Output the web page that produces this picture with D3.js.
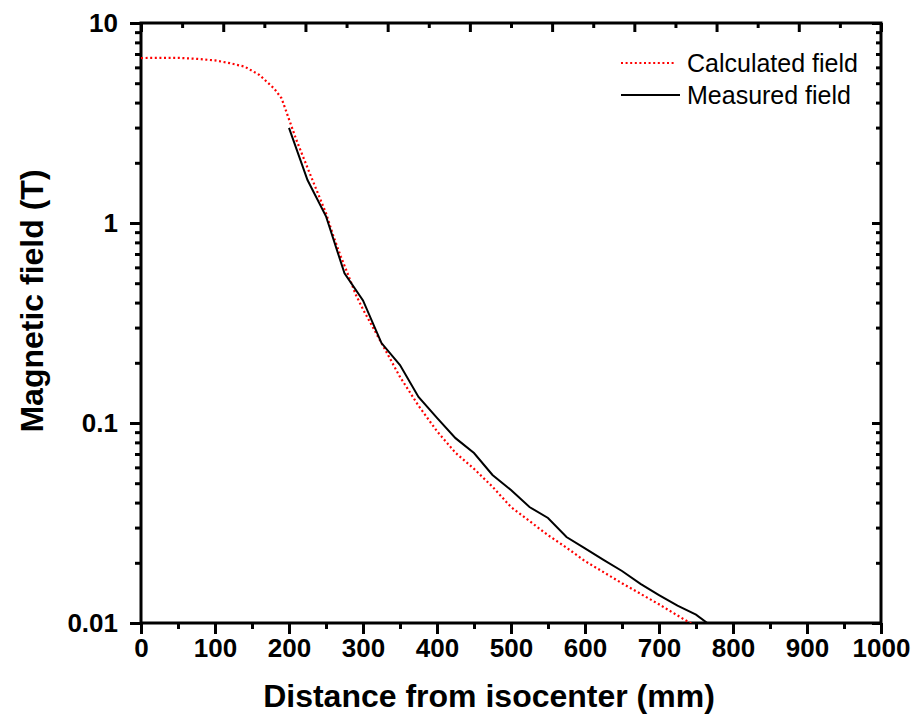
<!DOCTYPE html>
<html>
<head>
<meta charset="UTF-8">
<script src="https://d3js.org/d3.v7.min.js"></script>
<style>
  body { margin: 0; background: #fff; }
  svg text { font-family: "Liberation Sans", Arial, sans-serif; }
</style>
</head>
<body>
<div id="chart"></div>
<script>
    // calculated field (red dotted), distance in mm, field in T
    const calcDist = [0, 25, 50, 75, 100, 120, 140, 160, 180, 190, 200, 210, 220, 230, 240, 250, 260, 270, 280, 290, 300,
                      325, 350, 375, 400, 425, 450, 475, 500, 550, 575, 600, 650, 700, 740, 760];
    const calcField = [6.68, 6.7, 6.7, 6.62, 6.5, 6.3, 6.05, 5.5, 4.7, 4.2, 3.3, 2.6, 2.1, 1.7, 1.38, 1.12, 0.86, 0.68, 0.55, 0.44, 0.37,
                       0.251, 0.17, 0.122, 0.091, 0.071, 0.059, 0.048, 0.038, 0.0275, 0.0238, 0.0204, 0.0158, 0.0124, 0.0101, 0.0092];

    // measured field (black solid)
    const measDist = [200, 225, 250, 275, 300, 325, 350, 375, 400, 425, 450, 475, 500, 525, 550, 575, 600, 625, 650, 675, 700, 725, 750, 775];
    const measField = [2.99, 1.64, 1.08, 0.56, 0.41, 0.251, 0.195, 0.135, 0.106, 0.084, 0.0708, 0.055, 0.0462, 0.038, 0.0335, 0.0269,
                       0.0236, 0.0207, 0.0182, 0.0157, 0.0138, 0.0122, 0.011, 0.0094];

    const xTicks = [0, 100, 200, 300, 400, 500, 600, 700, 800, 900, 1000];
    const yTicks = [0.01, 0.1, 1, 10];
    const yTickLabels = ['0.01', '0.1', '1', '10'];
    const seriesNames = ['Calculated field', 'Measured field'];

    const width = 912, height = 717;
    const margin = {left: 141, right: 31, top: 23, bottom: 94};
    const innerW = width - margin.left - margin.right;
    const innerH = height - margin.top - margin.bottom;

    const svg = d3.select('#chart').append('svg')
        .attr('width', width)
        .attr('height', height);

    const x = d3.scaleLinear().domain([0, 1000]).range([0, innerW]);
    const xTop = d3.scaleLinear().domain([0, 900]).range([0, innerW]);
    const y = d3.scaleLog().domain([0.01, 10]).range([innerH, 0]);

    const g = svg.append('g').attr('transform', `translate(${margin.left},${margin.top})`);

    g.append('clipPath').attr('id', 'clip')
        .append('rect').attr('width', innerW).attr('height', innerH);

    // minor ticks
    const xMinor = d3.range(50, 1000, 100);
    const xTopMinor = d3.range(50, 900, 100);
    const yMinor = [];
    [0.01, 0.1, 1].forEach(d => { for (let k = 2; k <= 9; k++) yMinor.push(d * k); });

    function styleAxis(sel) {
        sel.select('.domain').remove();
        sel.selectAll('line').attr('stroke', '#000').attr('stroke-width', 3);
        sel.selectAll('text')
            .attr('font-size', 26)
            .attr('font-weight', 'bold')
            .attr('fill', '#000');
    }

    // bottom
    g.append('g').attr('transform', `translate(0,${innerH})`)
        .call(d3.axisBottom(x).tickValues(xTicks).tickSize(11).tickPadding(5).tickFormat(d3.format('d')))
        .call(styleAxis);
    g.append('g').attr('transform', `translate(0,${innerH})`)
        .call(d3.axisBottom(x).tickValues(xMinor).tickSize(6).tickFormat(''))
        .call(styleAxis);

    // top (inward ticks, 0-900)
    g.append('g')
        .call(d3.axisBottom(xTop).tickValues(d3.range(0, 901, 100)).tickSize(9).tickFormat(''))
        .call(styleAxis);
    g.append('g')
        .call(d3.axisBottom(xTop).tickValues(xTopMinor).tickSize(5).tickFormat(''))
        .call(styleAxis);

    // left
    g.append('g')
        .call(d3.axisLeft(y).tickValues(yTicks).tickSize(11).tickPadding(12)
            .tickFormat((d, i) => yTickLabels[i]))
        .call(styleAxis);
    g.append('g')
        .call(d3.axisLeft(y).tickValues(yMinor).tickSize(6).tickFormat(''))
        .call(styleAxis);

    // right (inward)
    g.append('g').attr('transform', `translate(${innerW},0)`)
        .call(d3.axisLeft(y).tickValues(yTicks).tickSize(9).tickFormat(''))
        .call(styleAxis);
    g.append('g').attr('transform', `translate(${innerW},0)`)
        .call(d3.axisLeft(y).tickValues(yMinor).tickSize(5).tickFormat(''))
        .call(styleAxis);

    // frame
    g.append('rect')
        .attr('width', innerW).attr('height', innerH)
        .attr('fill', 'none').attr('stroke', '#000').attr('stroke-width', 3);

    const line = d3.line().x(d => x(d[0])).y(d => y(d[1]));
    const plot = g.append('g').attr('clip-path', 'url(#clip)');

    plot.append('path')
        .datum(calcDist.map((d, i) => [d, calcField[i]]))
        .attr('d', line)
        .attr('fill', 'none')
        .attr('stroke', '#ff0000')
        .attr('stroke-width', 2.2)
        .attr('stroke-dasharray', '2,2.6');

    plot.append('path')
        .datum(measDist.map((d, i) => [d, measField[i]]))
        .attr('d', line)
        .attr('fill', 'none')
        .attr('stroke', '#000')
        .attr('stroke-width', 2);

    // legend
    const legend = svg.append('g');
    const legY = [63, 95];
    legend.append('line')
        .attr('x1', 621).attr('x2', 676).attr('y1', legY[0]).attr('y2', legY[0])
        .attr('stroke', '#ff0000').attr('stroke-width', 2.2).attr('stroke-dasharray', '2,2.6');
    legend.append('line')
        .attr('x1', 621).attr('x2', 680).attr('y1', legY[1]).attr('y2', legY[1])
        .attr('stroke', '#000').attr('stroke-width', 2);
    seriesNames.forEach((name, i) => {
        legend.append('text')
            .attr('x', 687).attr('y', legY[i] + 9)
            .attr('font-size', 25)
            .attr('fill', '#000')
            .text(name);
    });

    // axis titles
    svg.append('text')
        .attr('x', 489).attr('y', 707)
        .attr('text-anchor', 'middle')
        .attr('font-size', 32)
        .attr('font-weight', 'bold')
        .text('Distance from isocenter (mm)');

    svg.append('text')
        .attr('transform', 'translate(43,301) rotate(-90)')
        .attr('text-anchor', 'middle')
        .attr('font-size', 32)
        .attr('font-weight', 'bold')
        .text('Magnetic field (T)');
</script>
</body>
</html>
